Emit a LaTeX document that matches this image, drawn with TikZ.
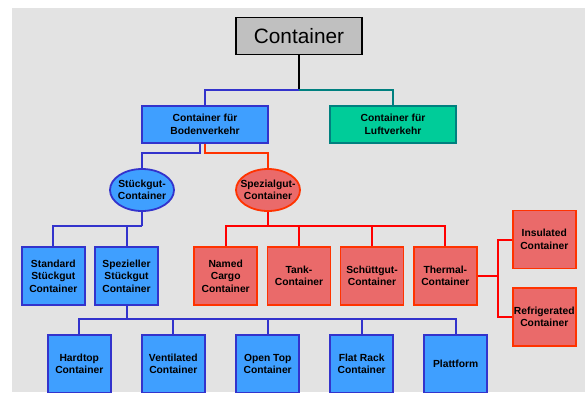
\documentclass[tikz,border=0pt]{standalone}
\usepackage{fontspec}
\setmainfont{Liberation Sans}
\usetikzlibrary{shapes.geometric}
\definecolor{bggray}{HTML}{E3E3E3}
\definecolor{topfill}{HTML}{C0C0C0}
\definecolor{bluefill}{HTML}{3F9FFF}
\definecolor{blueedge}{HTML}{3333CC}
\definecolor{redfill}{HTML}{EA6A6A}
\definecolor{rededge}{HTML}{FF3300}
\definecolor{greenfill}{HTML}{00CC99}
\definecolor{greenedge}{HTML}{00807F}
\tikzset{box/.style={draw,line width=1.8pt,align=center,inner sep=0pt,
  minimum width=63pt,minimum height=58pt,
  font=\bfseries\fontsize{10.3}{12.5}\selectfont}}
\tikzset{wide/.style={minimum width=126pt,minimum height=37pt}}

\begin{document}
\begin{tikzpicture} [x=1pt,y=-1pt]

\tikzstyle{bluebox}=[box,fill=bluefill,draw=blueedge]
\tikzstyle{redbox}=[box,fill=redfill,draw=rededge]
\tikzstyle{oval}=[box,ellipse,minimum width=64pt,minimum height=42pt,inner xsep=-8pt]
\tikzstyle{conn}=[line width=2pt]

\useasboundingbox (0,0) rectangle (585,392);
\fill[bggray] (12,8) rectangle (585,392);

% top levels
\node[box,wide,fill=topfill,draw=black,font=\fontsize{20.8}{24}\selectfont] (cont) at (299,36) {Container};
\node[bluebox,wide] (boden) at (205,124.5) {Container für\\Bodenverkehr};
\node[box,wide,fill=greenfill,draw=greenedge] (luft) at (393,124.5) {Container für\\Luftverkehr};
\node[bluebox,oval] (stueck) at (142,190) {Stückgut-\\Container};
\node[redbox,oval] (spezial) at (268,190) {Spezialgut-\\Container};

% third row
\node[bluebox] (std) at (53.3,276) {Standard\\Stückgut\\Container};
\node[bluebox] (spez) at (126.5,276) {Spezieller\\Stückgut\\Container};
\node[redbox] (named) at (225.7,276) {Named\\Cargo\\Container};
\node[redbox] (tank) at (299,276) {Tank-\\Container};
\node[redbox] (schuett) at (372,276) {Schüttgut-\\Container};
\node[redbox] (thermal) at (445.3,276) {Thermal-\\Container};
\node[redbox] (insul) at (544.3,239.5) {Insulated\\Container};
\node[redbox] (refrig) at (544.3,317) {Refrigerated\\Container};

% bottom row
\node[bluebox] (hard) at (79.3,364) {Hardtop\\Container};
\node[bluebox] (vent) at (173.3,364) {Ventilated\\Container};
\node[bluebox] (open) at (267.7,364) {Open Top\\Container};
\node[bluebox] (flat) at (361.7,364) {Flat Rack\\Container};
\node[bluebox] (platt) at (455.7,364) {Plattform};

% connectors
\coordinate (j0) at (299,90);
\draw[conn,black] (cont.south) -- (j0);
\draw[conn,blueedge] (j0) -| (boden.north);
\draw[conn,greenedge] (j0) -| (luft.north);

\coordinate (j1) at (200,153);
\coordinate (j2) at (205,153);
\draw[conn,blueedge] (boden.south -| j1) -- (j1) -| (stueck.north);
\draw[conn,rededge] (boden.south) -- (j2) -| (spezial.north);

\coordinate (j3) at (142,226);
\draw[conn,blueedge] (stueck.south) -- (j3);
\foreach \n in {std,spez}
  \draw[conn,blueedge] (j3) -| (\n.north);

\coordinate (j4) at (268,226);
\draw[conn,red] (spezial.south) -- (j4);
\foreach \n in {named,tank,schuett,thermal}
  \draw[conn,red] (j4) -| (\n.north);

\coordinate (j5) at (498.3,276);
\draw[conn,red] (thermal.east) -- (j5);
\foreach \n in {insul,refrig}
  \draw[conn,red] (j5) |- (\n.west);

\coordinate (j6) at (126.5,319.3);
\draw[conn,blueedge] (spez.south) -- (j6);
\foreach \n in {hard,vent,open,flat,platt}
  \draw[conn,blueedge] (j6) -| (\n.north);
\end{tikzpicture}
\end{document}
